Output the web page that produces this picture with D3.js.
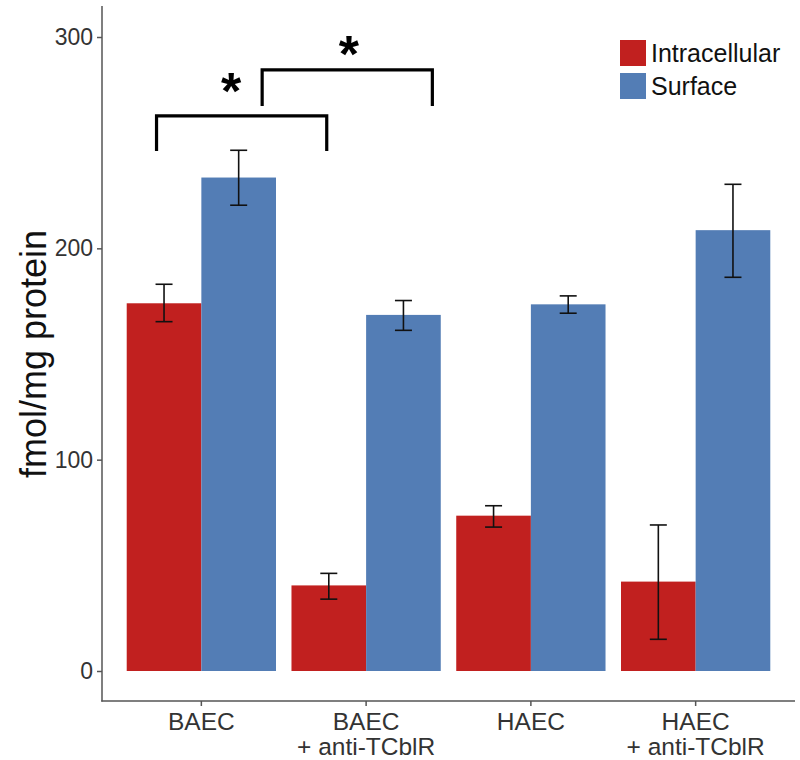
<!DOCTYPE html>
<html>
<head>
<meta charset="utf-8">
<script src="https://cdn.jsdelivr.net/npm/d3@7"></script>
<style>
  body { margin: 0; background: #fff; }
  svg { display: block; font-family: "Liberation Sans", Arial, sans-serif; }
</style>
</head>
<body>
<svg id="chart" width="800" height="760"></svg>
<script>
// ---- data ----
const categories = ["BAEC", "BAEC\n+ anti-TCblR", "HAEC", "HAEC\n+ anti-TCblR"];
const seriesNames = ["Intracellular", "Surface"];
const intracellular = [174, 40.5, 73.5, 42.3];
const intracellularLo = [165.3, 34, 68.1, 15];
const intracellularHi = [183, 46.2, 78.2, 69.1];
const surface = [233.5, 168.5, 173.5, 208.6];
const surfaceLo = [220.4, 161.2, 169.3, 186.3];
const surfaceHi = [246.4, 175.3, 177.5, 230.3];
const yTicks = [0, 100, 200, 300];
const yLabel = "fmol/mg protein";
// significance brackets: ends as [category index, offset in steps], heights in data units
const brackets = [
  { from: [0, -0.272], to: [1, -0.239], top: 262.7, bottom: 246, starAt: [0, 0.18], starY: 276.4, label: "*" },
  { from: [0, 0.369], to: [1, 0.402], top: 284.4, bottom: 267.4, starAt: [0, 0.895], starY: 294, label: "*" }
];

const colors = ["#c1201f", "#537db5"];

const svg = d3.select("#chart");

const y = d3.scaleLinear().domain([0, 300]).range([671, 37]);
const x = d3.scaleBand().domain(categories).range([102, 795])
  .paddingInner(0.094).paddingOuter(0.15);
const xs = d3.scaleBand().domain(seriesNames).range([0, x.bandwidth()]);

const rows = categories.map((c, i) => ({
  cat: c,
  vals: [
    { s: seriesNames[0], v: intracellular[i], lo: intracellularLo[i], hi: intracellularHi[i] },
    { s: seriesNames[1], v: surface[i], lo: surfaceLo[i], hi: surfaceHi[i] }
  ]
}));

// bars
const g = svg.append("g");
const groups = g.selectAll("g.grp").data(rows).join("g")
  .attr("transform", d => `translate(${x(d.cat)},0)`);
groups.selectAll("rect").data(d => d.vals).join("rect")
  .attr("x", d => xs(d.s))
  .attr("width", xs.bandwidth())
  .attr("y", d => y(d.v))
  .attr("height", d => y(0) - y(d.v))
  .attr("fill", (d, i) => colors[i]);

// error bars
const capW = 8.5;
const eb = groups.selectAll("g.eb").data(d => d.vals).join("g")
  .attr("stroke", "#111").attr("stroke-width", 1.6).attr("fill", "none");
const cx = d => xs(d.s) + xs.bandwidth() / 2;
eb.append("line")
  .attr("x1", cx).attr("x2", cx)
  .attr("y1", d => y(d.lo)).attr("y2", d => y(d.hi));
eb.append("line")
  .attr("x1", d => cx(d) - capW).attr("x2", d => cx(d) + capW)
  .attr("y1", d => y(d.hi)).attr("y2", d => y(d.hi));
eb.append("line")
  .attr("x1", d => cx(d) - capW).attr("x2", d => cx(d) + capW)
  .attr("y1", d => y(d.lo)).attr("y2", d => y(d.lo));

// axes
const axisColor = "#555";
const yAxis = svg.append("g").attr("transform", "translate(102,0)")
  .call(d3.axisLeft(y).tickValues(yTicks).tickSize(5).tickPadding(4));
yAxis.select(".domain").remove();
yAxis.selectAll(".tick line").attr("stroke", axisColor).attr("stroke-width", 1.5);
yAxis.selectAll(".tick text").attr("font-size", 23).attr("fill", "#333")
  .attr("font-family", "Liberation Sans, Arial, sans-serif");
svg.append("line").attr("x1", 102).attr("x2", 102).attr("y1", 6).attr("y2", 701.5)
  .attr("stroke", axisColor).attr("stroke-width", 1.5);

const xAxis = svg.append("g").attr("transform", "translate(0,701)")
  .call(d3.axisBottom(x).tickSize(5).tickPadding(4).tickFormat(""));
xAxis.select(".domain").remove();
xAxis.selectAll(".tick line").attr("stroke", axisColor).attr("stroke-width", 1.5);
svg.append("line").attr("x1", 101.25).attr("x2", 795).attr("y1", 701).attr("y2", 701)
  .attr("stroke", axisColor).attr("stroke-width", 1.5);

xAxis.selectAll(".tick").each(function(d) {
  const t = d3.select(this).append("text")
    .attr("text-anchor", "middle").attr("font-size", 24.5).attr("fill", "#333")
    .attr("font-family", "Liberation Sans, Arial, sans-serif");
  d.split("\n").forEach((line, i) => {
    t.append("tspan").attr("x", 0).attr("y", 29 + i * 25).text(line);
  });
});

// y label
svg.append("text")
  .attr("transform", `translate(46,${y(150)}) rotate(-90)`)
  .attr("text-anchor", "middle")
  .attr("font-size", 36).attr("fill", "#111")
  .text(yLabel);

// brackets
const bx = p => x(categories[p[0]]) + x.bandwidth() / 2 + p[1] * x.step();
const br = svg.append("g");
brackets.forEach(b => {
  const x1 = bx(b.from), x2 = bx(b.to);
  br.append("path")
    .attr("d", `M${x1},${y(b.bottom)}V${y(b.top)}H${x2}V${y(b.bottom)}`)
    .attr("fill", "none").attr("stroke", "#000").attr("stroke-width", 3.2);
  br.append("text")
    .attr("x", bx(b.starAt))
    .attr("y", y(b.starY) + 22)
    .attr("text-anchor", "middle")
    .attr("font-size", 52).attr("font-weight", "bold").attr("fill", "#000")
    .text(b.label);
});

// legend
const lg = svg.append("g").attr("transform", "translate(620,40)");
seriesNames.forEach((s, i) => {
  lg.append("rect").attr("x", 0).attr("y", i * 33).attr("width", 26).attr("height", 26).attr("fill", colors[i]);
  lg.append("text").attr("x", 31).attr("y", i * 33 + 22).attr("font-size", 25).attr("fill", "#111").text(s);
});
</script>
</body>
</html>
